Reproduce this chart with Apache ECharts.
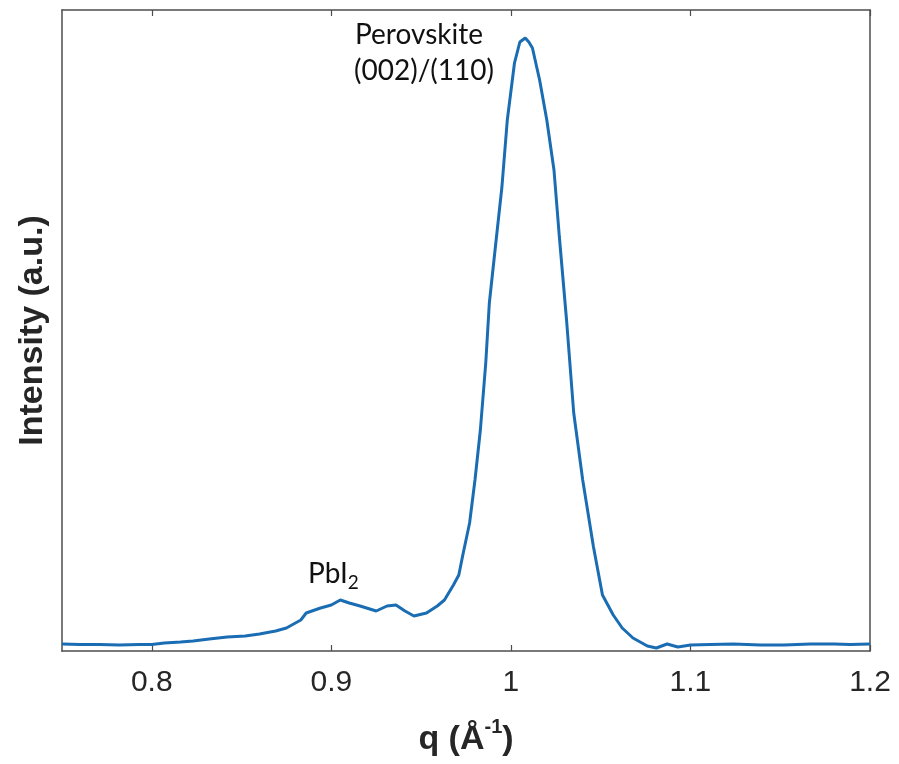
<!DOCTYPE html>
<html>
<head>
<meta charset="utf-8">
<script src="https://cdn.jsdelivr.net/npm/echarts@6/dist/echarts.min.js"></script>
<style>
html,body{margin:0;padding:0;background:#fff;}
#c{width:899px;height:764px;}
</style>
</head>
<body>
<div id="c"></div>
<script>
// q values (Å^-1)
var qValues = [0.750,0.760,0.771,0.782,0.793,0.800,0.807,0.816,0.823,0.832,0.842,0.852,0.860,0.869,0.875,0.883,0.886,0.894,0.900,0.905,0.910,0.916,0.925,0.931,0.936,0.941,0.946,0.953,0.959,0.963,0.968,0.971,0.973,0.977,0.980,0.983,0.986,0.988,0.991,0.995,0.998,1.002,1.005,1.008,1.010,1.012,1.016,1.020,1.024,1.027,1.031,1.035,1.040,1.046,1.051,1.057,1.062,1.068,1.076,1.081,1.087,1.093,1.100,1.111,1.124,1.139,1.152,1.167,1.180,1.189,1.200];
// intensity (a.u.)
var intensity = [7,6.5,6.5,6,6.5,6.5,8,9,10,12,14,15,17,20,23,31,38,43,46,51,48,45,40,45,46,40,35,38,45,51,66,76,94,128,171,221,288,348,398,464,531,588,609,613,609,603,571,531,481,414,331,238,171,104,56,36,23,13,5,3,7,4,6,6.5,7,6,6,7,7,6.5,7];
var xTicks = [0.8,0.9,1,1.1,1.2];

var data = qValues.map(function(q,i){return [q,intensity[i]];});
var axisColor = '#4d4d4d';
var chart = echarts.init(document.getElementById('c'));
chart.setOption({
  animation:false,
  backgroundColor:'#ffffff',
  grid:{left:62,right:29,top:10,bottom:113,containLabel:false},
  xAxis:[{
    type:'value',min:0.75,max:1.2,interval:0.05,position:'bottom',
    axisLine:{show:true,onZero:false,lineStyle:{color:axisColor,width:1.5}},
    axisTick:{show:true,inside:true,length:6,lineStyle:{color:axisColor,width:1.2},
      customValues:xTicks},
    axisLabel:{show:true,customValues:xTicks,fontFamily:'Liberation Sans, Arial, sans-serif',fontSize:30,color:'#262626',margin:17,
      formatter:function(v){return String(Math.round(v*10)/10);}},
    splitLine:{show:false},
    name:'{b|q (Å}{s|-1}{b|)}',
    nameLocation:'middle',nameGap:66,
    nameTextStyle:{rich:{
      b:{fontFamily:'Liberation Sans, Arial, sans-serif',fontWeight:'bold',fontSize:34,color:'#262626',lineHeight:40,verticalAlign:'bottom'},
      s:{fontFamily:'Liberation Sans, Arial, sans-serif',fontWeight:'bold',fontSize:20,color:'#262626',lineHeight:40,verticalAlign:'top',padding:[0,0,0,0]}
    }}
  },{
    type:'value',min:0.75,max:1.2,interval:0.05,position:'top',
    axisLine:{show:true,onZero:false,lineStyle:{color:axisColor,width:1.5}},
    axisTick:{show:true,inside:true,length:6,lineStyle:{color:axisColor,width:1.2},customValues:xTicks},
    axisLabel:{show:false},splitLine:{show:false}
  }],
  yAxis:[{
    type:'value',min:0,max:641,position:'left',
    axisLine:{show:true,onZero:false,lineStyle:{color:axisColor,width:1.5}},
    axisTick:{show:false},axisLabel:{show:false},splitLine:{show:false},
    name:'Intensity (a.u.)',nameLocation:'middle',nameGap:12,
    nameTextStyle:{fontFamily:'Liberation Sans, Arial, sans-serif',fontWeight:'bold',fontSize:34,color:'#262626'}
  },{
    type:'value',min:0,max:641,position:'right',
    axisLine:{show:true,onZero:false,lineStyle:{color:axisColor,width:1.5}},
    axisTick:{show:false},axisLabel:{show:false},splitLine:{show:false}
  }],
  series:[{
    type:'line',data:data,xAxisIndex:0,yAxisIndex:0,
    showSymbol:false,smooth:false,
    lineStyle:{color:'#1a6db3',width:3},
    z:3
  }],
  graphic:[
    {type:'text',left:355,top:21,style:{text:'Perovskite',font:'28px Lato, "Noto Sans", sans-serif',fill:'#111'}},
    {type:'text',left:354,top:57,style:{text:'(002)/(110)',font:'28px Lato, "Noto Sans", sans-serif',fill:'#111'}},
    {type:'text',left:308,top:560,style:{
      text:'{a|PbI}{b|2}',
      rich:{
        a:{fontFamily:'Lato, "Noto Sans", sans-serif',fontSize:28,fill:'#111',color:'#111',lineHeight:32,verticalAlign:'top'},
        b:{fontFamily:'Lato, "Noto Sans", sans-serif',fontSize:19,fill:'#111',color:'#111',lineHeight:32,verticalAlign:'bottom'}
      }}}
  ]
});
</script>
</body>
</html>
